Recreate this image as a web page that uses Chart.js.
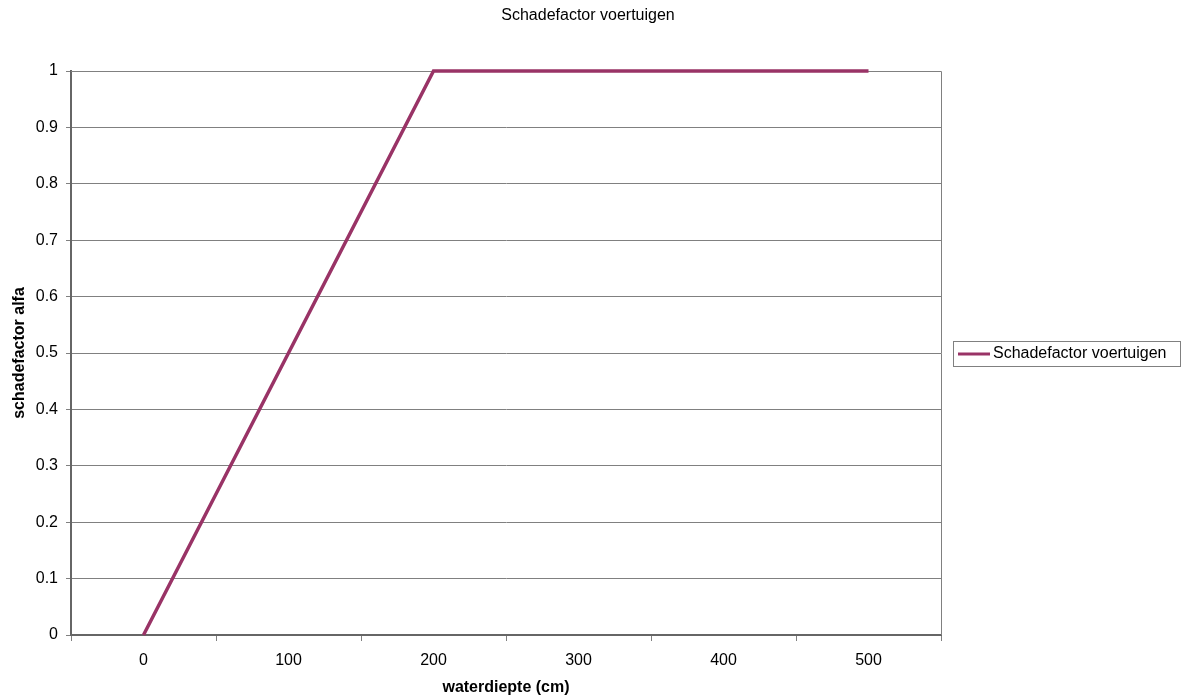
<!DOCTYPE html>
<html>
<head>
<meta charset="utf-8">
<script src="https://cdn.jsdelivr.net/npm/chart.js@4/dist/chart.umd.min.js"></script>
<style>
html,body{margin:0;padding:0;background:#fff;}
#wrap{width:1186px;height:697px;position:relative;}
</style>
</head>
<body>
<div id="wrap"><canvas id="c" width="1186" height="697"></canvas></div>
<script>
const categories = ['0', '100', '200', '300', '400', '500'];
const schadefactor = [0, 0.5, 1, 1, 1, 1];
const seriesLabel = 'Schadefactor voertuigen';
const chartTitle = 'Schadefactor voertuigen';
const xTitle = 'waterdiepte (cm)';
const yTitle = 'schadefactor alfa';
const lineColor = '#993366';
const FONT = 'Liberation Sans, Arial, sans-serif';

const extras = {
  id: 'extras',
  afterDraw(chart) {
    const {ctx, chartArea: a} = chart;
    ctx.save();
    ctx.fillStyle = '#000';
    ctx.font = '16px ' + FONT;
    ctx.textAlign = 'center';
    ctx.textBaseline = 'middle';
    ctx.fillText(chartTitle, 588, 16);
    // legend
    const lx = 953, ly = 341, lw = 227, lh = 25;
    ctx.strokeStyle = '#808080';
    ctx.lineWidth = 1;
    ctx.strokeRect(lx + 0.5, ly + 0.5, lw, lh);
    ctx.strokeStyle = chart.data.datasets[0].borderColor;
    ctx.lineWidth = 3;
    ctx.beginPath();
    ctx.moveTo(958, ly + 13);
    ctx.lineTo(990, ly + 13);
    ctx.stroke();
    ctx.fillStyle = '#000';
    ctx.textAlign = 'left';
    ctx.font = '16px ' + FONT;
    ctx.fillText(chart.data.datasets[0].label, 993, ly + 13);
    ctx.restore();
  },
  beforeDatasetsDraw(chart) {
    const {ctx, chartArea: a} = chart;
    ctx.save();
    ctx.strokeStyle = '#808080';
    ctx.lineWidth = 1;
    ctx.beginPath();
    ctx.moveTo(a.left, a.top + 0.5);
    ctx.lineTo(a.right + 0.5, a.top + 0.5);
    ctx.lineTo(a.right + 0.5, a.bottom);
    ctx.stroke();
    ctx.restore();
  }
};

new Chart(document.getElementById('c'), {
  type: 'line',
  data: {
    labels: categories,
    datasets: [{
      label: seriesLabel,
      data: schadefactor,
      borderColor: lineColor,
      backgroundColor: lineColor,
      borderWidth: 3.5,
      pointRadius: 0,
      tension: 0,
      fill: false,
      clip: 5
    }]
  },
  options: {
    responsive: false,
    animation: false,
    devicePixelRatio: 1,
    layout: { padding: { top: 71, right: 245, left: 0, bottom: 0 } },
    plugins: {
      legend: { display: false },
      title: { display: false },
      tooltip: { enabled: false }
    },
    scales: {
      x: {
        type: 'category',
        offset: true,
        grid: {
          offset: true,
          drawOnChartArea: false,
          color: '#808080',
          tickLength: 6,
          tickColor: '#808080'
        },
        border: { color: '#666666', width: 2 },
        ticks: { color: '#000', font: { family: FONT, size: 16 }, padding: 10, maxRotation: 0 },
        title: { display: true, text: xTitle, color: '#000', font: { family: FONT, size: 16, weight: 'bold' }, padding: { top: 4, bottom: 0 } },
        afterFit(s) { s.height = 62; }
      },
      y: {
        min: 0, max: 1,
        ticks: { stepSize: 0.1, color: '#000', font: { family: FONT, size: 16 }, padding: 8,
          callback: v => String(Math.round(v * 10) / 10) },
        grid: { color: '#808080', tickLength: 5, tickColor: '#808080' },
        border: { color: '#666666', width: 2 },
        title: { display: true, text: yTitle, color: '#000', font: { family: FONT, size: 16, weight: 'bold' }, padding: { top: 10, bottom: 4 } },
        afterFit(s) { s.width = 71; }
      }
    }
  },
  plugins: [extras]
});
</script>
</body>
</html>
